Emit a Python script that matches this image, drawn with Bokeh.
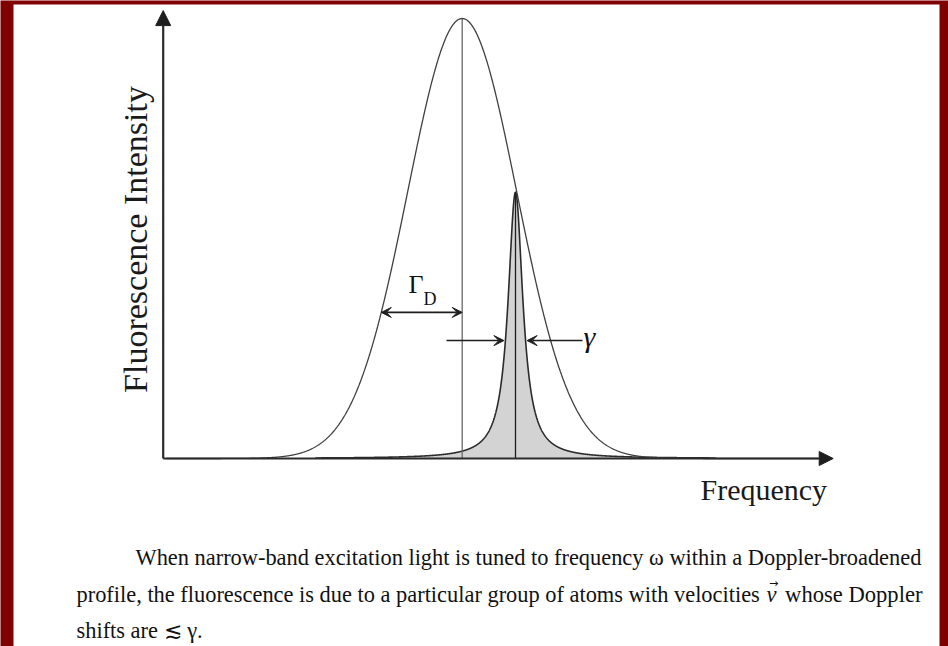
import numpy as np
from bokeh.plotting import figure
from bokeh.models import Range1d, Arrow, NormalHead, VeeHead, Label
from bokeh.embed import file_html
from bokeh.resources import INLINE

# ---- line-shape parameters (arbitrary frequency / intensity units) ----
doppler_center = 0.0      # centre of the Doppler-broadened profile
doppler_sigma = 5.45      # Gaussian width
doppler_peak = 1.0        # peak fluorescence of the Doppler profile
homog_center = 5.33       # laser frequency omega (selected velocity group)
homog_gamma = 0.9         # homogeneous half width gamma
homog_peak = 0.605        # peak of the velocity-selected contribution

freq_axis = [-29.9, 37.1]     # frequency axis extent (start, arrow tip)
intens_axis = [0.0, 1.018]    # intensity axis extent (start, arrow tip)
gammaD_level = 0.332          # height at which Gamma_D is marked
gamma_level = 0.268           # height at which gamma is marked

x_label = "Frequency"
y_label = "Fluorescence Intensity"
caption_1 = "When narrow-band excitation light is tuned to frequency \u03c9 within a Doppler-broadened"
caption_2a = "profile, the fluorescence is due to a particular group of atoms with velocities"
caption_2v = "v"
caption_2b = "whose Doppler"
caption_3 = "shifts are \u2272 \u03b3."

# ---- canvas geometry helpers (page pixels -> data units) ----
W, H = 948, 646
PX_PER_F, F0_PX = 10.0, 461.7
PX_PER_I, BASE_PX = 440.0, 458.0


def fx(px):
    return (px - F0_PX) / PX_PER_F


def fy(py):
    return (BASE_PX - py) / PX_PER_I


p = figure(width=W, height=H, x_range=Range1d(fx(0), fx(W)), y_range=Range1d(fy(H), fy(0)),
           output_backend="svg", toolbar_location=None, min_border=0,
           x_axis_type=None, y_axis_type=None)
p.grid.visible = False
p.outline_line_color = None
p.background_fill_color = "#800000"
p.border_fill_color = "#800000"

# white page inside the dark-red frame
p.quad(left=fx(13), right=fx(939), top=fy(4), bottom=fy(H + 10),
       fill_color="white", line_color=None)

serif = "Liberation Serif"
ink = "#2b2b2b"
dark = "#1e1e1e"

# ---- profiles ----
f = np.linspace(freq_axis[0] + 0.3, freq_axis[1] - 1.5, 1500)
doppler = doppler_peak * np.exp(-0.5 * ((f - doppler_center) / doppler_sigma) ** 2)

fl = np.linspace(homog_center - 20.0, homog_center + 20.0, 3001)
fl = np.sort(np.append(fl, homog_center))
lorentz = homog_peak / (1.0 + ((fl - homog_center) / homog_gamma) ** 2)

p.varea(x=fl, y1=0.0, y2=lorentz, fill_color="#d3d3d3")
p.line(fl, lorentz, line_color=ink, line_width=1.6)

# centre markers
p.segment(x0=[doppler_center], y0=[0.0], x1=[doppler_center], y1=[doppler_peak],
          line_color="#6a6a6a", line_width=1.3)
p.segment(x0=[homog_center], y0=[0.0], x1=[homog_center], y1=[homog_peak],
          line_color=dark, line_width=1.3)

p.line(f, doppler, line_color="#404040", line_width=1.3)

# ---- axes with arrow heads ----
p.add_layout(Arrow(x_start=freq_axis[0], y_start=intens_axis[0], x_end=freq_axis[1], y_end=intens_axis[0],
                   line_color=ink, line_width=2.2,
                   end=NormalHead(size=14, fill_color=dark, line_color=dark)))
p.add_layout(Arrow(x_start=freq_axis[0], y_start=intens_axis[0], x_end=freq_axis[0], y_end=intens_axis[1],
                   line_color=ink, line_width=2.2,
                   end=NormalHead(size=15, fill_color=dark, line_color=dark)))

# ---- Gamma_D marker ----
gd_half = doppler_sigma * np.sqrt(2.0 * np.log(doppler_peak / gammaD_level))
p.add_layout(Arrow(x_start=doppler_center - gd_half, y_start=gammaD_level,
                   x_end=doppler_center, y_end=gammaD_level,
                   line_color=dark, line_width=1.6,
                   start=VeeHead(size=10, fill_color=dark, line_color=dark),
                   end=VeeHead(size=10, fill_color=dark, line_color=dark)))
p.add_layout(Label(x=fx(408), y=fy(284), text="\u0393", text_font=serif, text_font_size="26px",
                   text_color="#111111", text_baseline="alphabetic"))
p.add_layout(Label(x=fx(423), y=fy(298), text="D", text_font=serif, text_font_size="18px",
                   text_color="#111111", text_baseline="alphabetic"))

# ---- gamma marker ----
g_half = homog_gamma * np.sqrt(homog_peak / gamma_level - 1.0) + 0.15
p.add_layout(Arrow(x_start=fx(446), y_start=gamma_level, x_end=homog_center - g_half, y_end=gamma_level,
                   line_color=dark, line_width=1.5,
                   end=VeeHead(size=10, fill_color=dark, line_color=dark)))
p.add_layout(Arrow(x_start=fx(582), y_start=gamma_level, x_end=homog_center + g_half, y_end=gamma_level,
                   line_color=dark, line_width=1.5,
                   end=VeeHead(size=10, fill_color=dark, line_color=dark)))
p.add_layout(Label(x=fx(583), y=fy(336), text="\u03b3", text_font=serif, text_font_size="30px",
                   text_font_style="italic", text_color="#111111", text_baseline="alphabetic"))

# ---- axis titles ----
p.add_layout(Label(x=fx(700), y=fy(489), text=x_label, text_font=serif, text_font_size="30px",
                   text_color="#1a1a1a", text_baseline="alphabetic"))
p.add_layout(Label(x=fx(135), y=fy(239), text=y_label, text_font=serif, text_font_size="34px",
                   text_color="#1a1a1a", text_baseline="alphabetic", text_align="center",
                   angle=np.pi / 2))

# ---- caption ----
cap_style = dict(text_font=serif, text_color="#111111", text_baseline="alphabetic")
p.add_layout(Label(x=fx(135), y=fy(557), text=caption_1, text_font_size="22.4px", **cap_style))
p.add_layout(Label(x=fx(76), y=fy(594), text=caption_2a, text_font_size="22.4px", **cap_style))
p.add_layout(Label(x=fx(766), y=fy(594), text=caption_2v, text_font_size="22.6px",
                   text_font_style="italic", **cap_style))
p.add_layout(Label(x=fx(773), y=fy(583), text="\u2192", text_font="DejaVu Sans",
                   text_font_size="11px", text_color="#111111", text_baseline="alphabetic",
                   text_align="center"))
p.add_layout(Label(x=fx(922), y=fy(594), text=caption_2b, text_font_size="22.6px",
                   text_align="right", **cap_style))
p.add_layout(Label(x=fx(76), y=fy(630), text=caption_3, text_font_size="22.4px", **cap_style))

open("out.html", "w").write(file_html(p, INLINE))
